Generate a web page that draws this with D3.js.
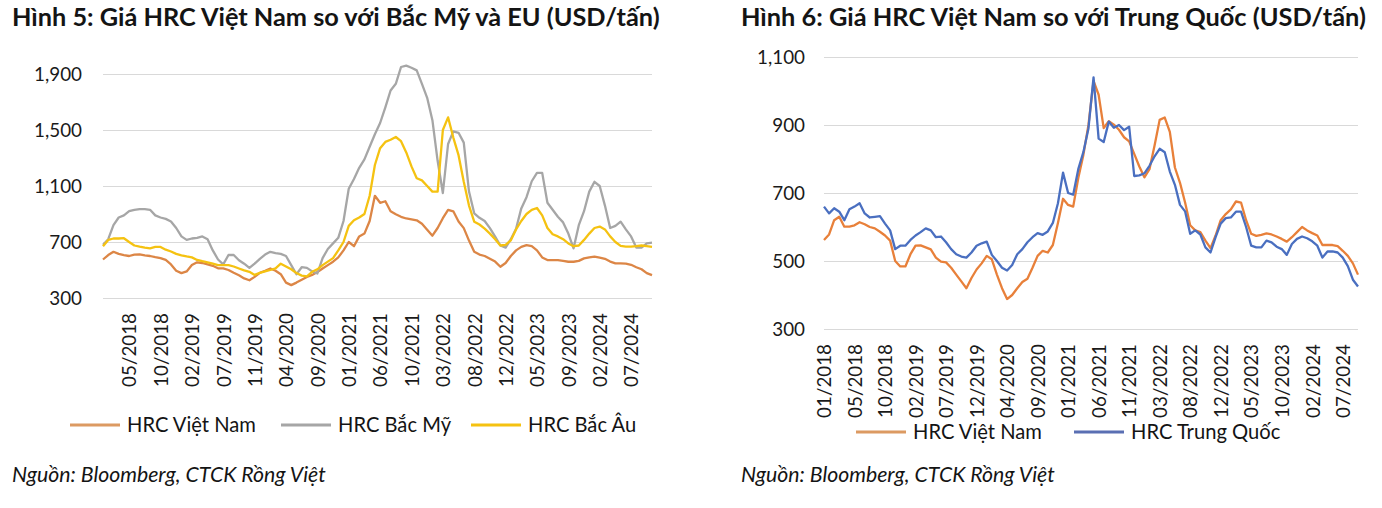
<!DOCTYPE html>
<html>
<head>
<meta charset="utf-8">
<script src="https://cdn.jsdelivr.net/npm/d3@7"></script>
<style>
body { margin: 0; background: #fff; }
#canvas svg { display: block; }
</style>
</head>
<body>
<div id="canvas"></div>
<script>
// ----------------------------------------------------------
// DATA -----------------------------------------------------
// ----------------------------------------------------------
// one value every ~3 weeks (USD/tấn)

var leftLabels = ["05/2018", "10/2018", "02/2019", "07/2019", "11/2019", "04/2020",
  "09/2020", "01/2021", "06/2021", "10/2021", "03/2022", "08/2022", "12/2022",
  "05/2023", "09/2023", "02/2024", "07/2024"];

var rightLabels = ["01/2018", "05/2018", "10/2018", "02/2019", "07/2019", "12/2019",
  "04/2020", "09/2020", "01/2021", "06/2021", "11/2021", "03/2022", "08/2022",
  "12/2022", "05/2023", "10/2023", "02/2024", "07/2024"];

var leftTicks = [300, 700, 1100, 1500, 1900];
var rightTicks = [300, 500, 700, 900, 1100];

// Hình 5
var hrcVietNam5 = [
  575, 607, 630, 615, 607, 600, 610, 612, 605, 600,
  592, 585, 572, 540, 495, 478, 490, 535, 555, 550,
  540, 530, 512, 511, 500, 480, 462, 440, 427, 451,
  480, 495, 511, 495, 470, 410, 392, 410, 430, 450,
  465, 485, 511, 535, 559, 590, 640, 700, 670, 740,
  760, 850, 1030, 980, 991, 919, 898, 880, 868, 862,
  855, 830, 787, 745, 800, 870, 930, 919, 847, 799,
  710, 630, 610, 600, 580, 560, 523, 550, 600, 640,
  665, 678, 670, 640, 590, 571, 571, 571, 565, 559,
  559, 565, 583, 590, 595, 588, 580, 560, 547, 547,
  545, 537, 520, 505, 478, 463];

var hrcBacMy = [
  680, 720, 820, 875, 890, 920, 930, 935, 935, 930,
  890, 875, 865, 847, 800, 740, 715, 725, 730, 740,
  720, 640, 575, 540, 607, 607, 570, 545, 515, 545,
  580, 610, 630, 620, 615, 600, 535, 470, 520, 515,
  490, 475, 585, 650, 690, 730, 850, 1080, 1150, 1230,
  1290, 1380, 1470, 1550, 1662, 1782, 1830, 1950, 1960, 1945,
  1926, 1830, 1730, 1570, 1280, 1050, 1400, 1490, 1480, 1410,
  1060, 905, 873, 850, 799, 739, 675, 660, 720, 795,
  940, 1020, 1134, 1194, 1194, 980, 930, 880, 840, 760,
  655, 820, 920, 1060, 1130, 1100, 960, 800, 815, 845,
  790, 740, 660, 660, 690, 695];

var hrcBacAu = [
  670, 715, 725, 725, 727, 700, 675, 667, 660, 655,
  665, 665, 645, 632, 615, 605, 597, 590, 572, 563,
  555, 545, 535, 535, 535, 525, 511, 497, 487, 465,
  480, 490, 500, 511, 545, 525, 505, 478, 460, 455,
  487, 505, 535, 560, 585, 640, 700, 815, 855, 875,
  900, 1030, 1250, 1370, 1415, 1430, 1450, 1420, 1340, 1240,
  1155, 1140, 1100, 1060, 1060, 1500, 1590, 1446, 1320, 1130,
  960, 845, 825, 795, 760, 720, 675, 680, 712, 790,
  850, 900, 930, 943, 890, 800, 755, 740, 720, 690,
  670, 675, 715, 760, 800, 810, 790, 740, 700, 672,
  667, 667, 670, 675, 670, 665];

// Hình 6
var hrcVietNam6 = [
  562, 578, 620, 630, 601, 601, 605, 614, 608, 600,
  596, 586, 575, 560, 500, 484, 484, 520, 545, 546,
  540, 534, 510, 498, 496, 480, 460, 440, 420, 450,
  475, 493, 515, 505, 460, 420, 388, 400, 420, 438,
  448, 480, 515, 530, 525, 547, 612, 683, 665, 660,
  744, 812, 900, 1030, 989, 891, 911, 901, 886, 864,
  852, 815, 778, 746, 770, 840, 915, 922, 880, 775,
  730, 672, 605, 590, 585, 560, 538, 575, 620, 638,
  652, 675, 672, 620, 580, 574, 577, 581, 578, 572,
  565, 557, 570, 585, 600, 590, 582, 575, 547, 547,
  547, 544, 530, 515, 493, 460];

var hrcTrungQuoc = [
  660, 640, 655, 645, 620, 652, 660, 670, 640, 628,
  630, 632, 610, 590, 535, 545, 545, 562, 575, 585,
  596, 590, 570, 572, 555, 535, 520, 513, 510, 525,
  545, 552, 557, 518, 500, 480, 472, 488, 520, 535,
  555, 570, 582, 577, 587, 612, 670, 760, 700, 695,
  770, 820, 890, 1040, 860, 850, 910, 892, 900, 885,
  895, 750, 752, 758, 780, 808, 830, 820, 763, 724,
  665, 646, 580, 590, 578, 540, 525, 570, 610, 626,
  628, 645, 645, 600, 545, 540, 540, 560, 555, 542,
  535, 518, 550, 565, 572, 567, 558, 545, 510, 528,
  528, 525, 510, 485, 445, 425];

var seriesNames5 = ["HRC Việt Nam", "HRC Bắc Mỹ", "HRC Bắc Âu"];
var seriesNames6 = ["HRC Việt Nam", "HRC Trung Quốc"];

var title5 = "Hình 5: Giá HRC Việt Nam so với Bắc Mỹ và EU (USD/tấn)";
var title6 = "Hình 6: Giá HRC Việt Nam so với Trung Quốc (USD/tấn)";
var sourceText = "Nguồn: Bloomberg, CTCK Rồng Việt";


// ----------------------------------------------------------
// STRUCTURE ------------------------------------------------
// ----------------------------------------------------------
var FONT = "Lato, 'Open Sans', sans-serif";
var W = 1382, H = 508;

var container = d3.select("#canvas").append("svg")
  .attr("width", W)
  .attr("height", H)
  .style("background-color", "#fff");

// find the font size that gives a text a wanted width
function fitSize(text, weight, style, width) {
  var t = container.append("text")
    .attr("font-family", FONT)
    .attr("font-size", 100)
    .attr("font-weight", weight)
    .attr("font-style", style)
    .text(text);
  var w = t.node().getComputedTextLength();
  t.remove();
  return 100 * width / w;
}

var sizeTitle5 = fitSize(title5, "bold", "normal", 648);
var sizeTitle6 = fitSize(title6, "bold", "normal", 625);
var sizeLegend = fitSize("HRC Việt Nam", "normal", "normal", 129);
var sizeSource = fitSize(sourceText, "normal", "italic", 314);
var sizeYTick = fitSize("1,900", "normal", "normal", 48);
var sizeXTick = fitSize("05/2018", "normal", "normal", 74);


// ----------------------------------------------------------
// PANEL ----------------------------------------------------
// ----------------------------------------------------------
function drawPanel(p) {
  var g = container.append("g").attr("class", "panel");
  var n = p.series[0].values.length;

  var xScale = d3.scaleLinear()
    .domain([0, n - 1])
    .range([p.x0, p.x1]);

  var yScale = d3.scaleLinear()
    .domain([p.ticks[0], p.ticks[p.ticks.length - 1]])
    .range([p.y0, p.y1]);

  // title
  g.append("text")
    .attr("x", p.titleX)
    .attr("y", 26)
    .attr("font-family", FONT)
    .attr("font-weight", "bold")
    .attr("font-size", p.titleSize)
    .attr("fill", "#141414")
    .text(p.title);

  // horizontal grid + value labels
  var yAxis = g.append("g")
    .attr("transform", `translate(${p.x0}, 0)`)
    .call(d3.axisLeft(yScale)
      .tickValues(p.ticks)
      .tickFormat(d3.format(","))
      .tickSize(-(p.x1 - p.x0))
      .tickPadding(p.yPad));
  yAxis.select(".domain").remove();
  yAxis.selectAll(".tick line")
    .attr("stroke", "#d9d9d9")
    .attr("stroke-width", 1.2);
  yAxis.selectAll(".tick text")
    .attr("font-family", FONT)
    .attr("font-size", sizeYTick)
    .attr("fill", "#1a1a1a");

  // category labels, every 6th point, turned upright
  var tickIdx = p.labels.map((d, i) => p.labelStart + i * 6);
  var xAxis = g.append("g")
    .attr("transform", `translate(0, ${p.y0})`)
    .call(d3.axisBottom(xScale)
      .tickValues(tickIdx)
      .tickFormat((d, i) => p.labels[i])
      .tickSize(0));
  xAxis.select(".domain").remove();
  xAxis.selectAll(".tick text")
    .attr("font-family", FONT)
    .attr("font-size", sizeXTick)
    .attr("fill", "#1a1a1a")
    .attr("transform", "rotate(-90)")
    .attr("x", -15)
    .attr("y", 0)
    .attr("dy", "0.36em")
    .style("text-anchor", "end");

  // lines
  var line = d3.line()
    .x((d, i) => xScale(i))
    .y((d) => yScale(d));

  p.series.forEach(function (s) {
    g.append("path")
      .datum(s.values)
      .attr("fill", "none")
      .attr("stroke", s.color)
      .attr("stroke-width", 2.3)
      .attr("stroke-linejoin", "round")
      .attr("d", line);
  });

  // legend
  p.series.forEach(function (s, i) {
    var lx = p.legendX[i];
    g.append("line")
      .attr("x1", lx)
      .attr("x2", lx + 50)
      .attr("y1", p.legendY)
      .attr("y2", p.legendY)
      .attr("stroke", s.legendColor || s.color)
      .attr("stroke-width", 3);
    g.append("text")
      .attr("x", lx + 57)
      .attr("y", p.legendY)
      .attr("dy", "0.36em")
      .attr("font-family", FONT)
      .attr("font-size", sizeLegend)
      .attr("fill", "#141414")
      .text(s.name);
  });

  // source
  g.append("text")
    .attr("x", p.titleX)
    .attr("y", 482)
    .attr("font-family", FONT)
    .attr("font-style", "italic")
    .attr("font-size", sizeSource)
    .attr("fill", "#141414")
    .text(sourceText);
}

drawPanel({
  title: title5,
  titleSize: sizeTitle5,
  titleX: 12,
  x0: 103, x1: 652,
  y0: 298, y1: 74,
  yPad: 21,
  ticks: leftTicks,
  labels: leftLabels,
  labelStart: 5,
  legendX: [70, 281, 471],
  legendY: 425,
  series: [
    { name: seriesNames5[0], values: hrcVietNam5, color: "#dc8646", legendColor: "#dc9a62" },
    { name: seriesNames5[1], values: hrcBacMy, color: "#a6a6a6" },
    { name: seriesNames5[2], values: hrcBacAu, color: "#f5c211" }
  ]
});

drawPanel({
  title: title6,
  titleSize: sizeTitle6,
  titleX: 741,
  x0: 824, x1: 1358,
  y0: 329, y1: 57,
  yPad: 19,
  ticks: rightTicks,
  labels: rightLabels,
  labelStart: 0,
  legendX: [856, 1074],
  legendY: 432,
  series: [
    { name: seriesNames6[0], values: hrcVietNam6, color: "#e8803a", legendColor: "#dc9a62" },
    { name: seriesNames6[1], values: hrcTrungQuoc, color: "#4a6fc0", legendColor: "#5a6fb3" }
  ]
});
</script>
</body>
</html>
